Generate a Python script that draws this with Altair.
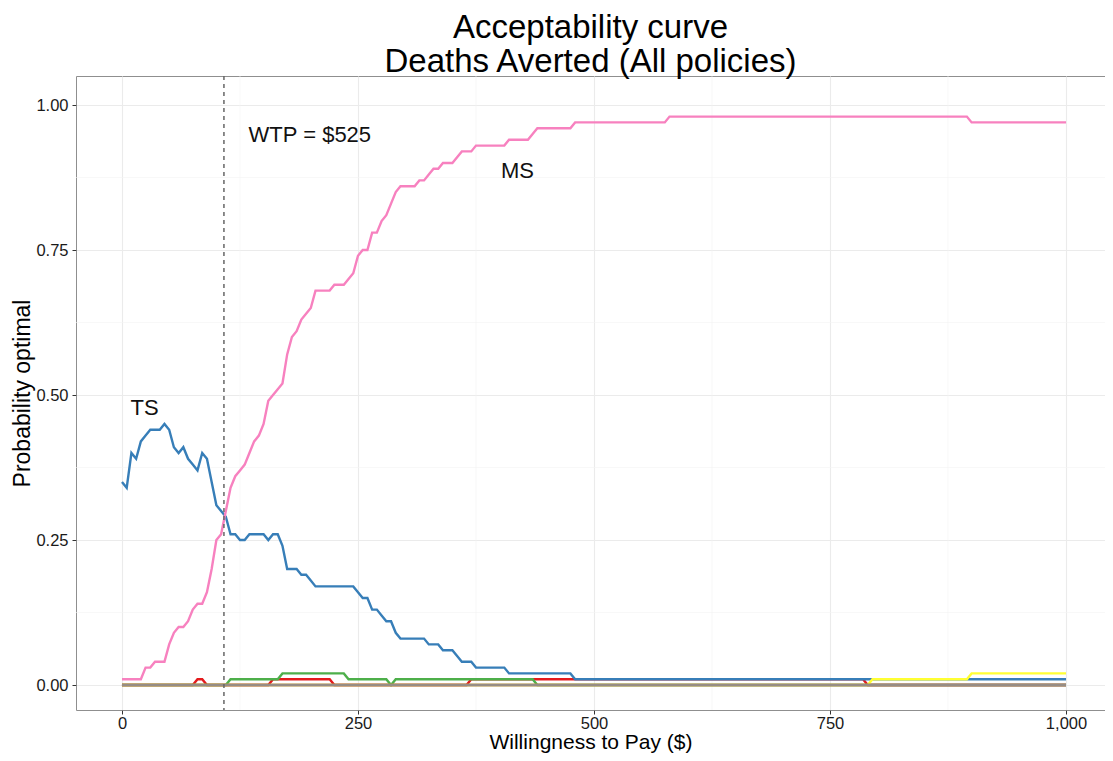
import altair as alt
import pandas as pd

FONT = "Liberation Sans"

# ---- data (WTP in $, probability optimal) ----
ts_x = [0, 5, 10, 15, 20, 25, 30, 40, 45, 50, 55, 60, 65, 70, 75, 80, 85, 90, 95, 100,
        105, 110, 115, 120, 125, 130, 135, 150, 155, 160, 165, 170, 175, 185, 190, 195,
        200, 205, 245, 250, 255, 260, 265, 270, 275, 280, 285, 290, 295, 320, 325, 335,
        340, 350, 355, 360, 370, 375, 405, 410, 475, 480, 1000]
ts_y = [0.35, 0.34, 0.40, 0.39, 0.42, 0.43, 0.44, 0.44, 0.45, 0.44, 0.41, 0.40, 0.41, 0.39,
        0.38, 0.37, 0.40, 0.39, 0.35, 0.31, 0.30, 0.29, 0.26, 0.26, 0.25, 0.25, 0.26, 0.26,
        0.25, 0.26, 0.26, 0.24, 0.20, 0.20, 0.19, 0.19, 0.18, 0.17, 0.17, 0.16, 0.15, 0.15,
        0.13, 0.13, 0.12, 0.11, 0.11, 0.09, 0.08, 0.08, 0.07, 0.07, 0.06, 0.06, 0.05, 0.04,
        0.04, 0.03, 0.03, 0.02, 0.02, 0.01, 0.01]

ms_x = [0, 20, 25, 30, 35, 45, 50, 55, 60, 65, 70, 75, 80, 85, 90, 95, 100, 105, 110, 115,
        120, 125, 130, 135, 140, 145, 150, 155, 160, 165, 170, 175, 180, 185, 190, 195, 200,
        205, 220, 225, 235, 240, 245, 250, 255, 260, 265, 270, 275, 280, 285, 290, 295, 310,
        315, 320, 325, 330, 335, 340, 350, 355, 360, 370, 375, 405, 410, 430, 435, 440, 475,
        480, 575, 580, 895, 900, 1000]
ms_y = [0.01, 0.01, 0.03, 0.03, 0.04, 0.04, 0.07, 0.09, 0.10, 0.10, 0.11, 0.13, 0.14, 0.14,
        0.16, 0.20, 0.25, 0.26, 0.30, 0.34, 0.36, 0.37, 0.38, 0.40, 0.42, 0.43, 0.45, 0.49,
        0.50, 0.51, 0.52, 0.57, 0.60, 0.61, 0.63, 0.64, 0.65, 0.68, 0.68, 0.69, 0.69, 0.70,
        0.71, 0.74, 0.75, 0.75, 0.78, 0.78, 0.80, 0.81, 0.83, 0.85, 0.86, 0.86, 0.87, 0.87,
        0.88, 0.89, 0.89, 0.90, 0.90, 0.91, 0.92, 0.92, 0.93, 0.93, 0.94, 0.94, 0.95, 0.96,
        0.96, 0.97, 0.97, 0.98, 0.98, 0.97, 0.97]

red_x = [0, 75, 80, 85, 90, 155, 160, 220, 225, 365, 370, 785, 790, 1000]
red_y = [0, 0, 0.01, 0.01, 0, 0, 0.01, 0.01, 0, 0, 0.01, 0.01, 0, 0]

green_x = [0, 110, 115, 165, 170, 235, 240, 280, 285, 290, 435, 440, 1000]
green_y = [0, 0, 0.01, 0.01, 0.02, 0.02, 0.01, 0.01, 0, 0.01, 0.01, 0, 0]

yellow_x = [0, 790, 795, 895, 900, 1000]
yellow_y = [0, 0, 0.01, 0.01, 0.02, 0.02]

zero_x = [0, 1000]
zero_y = [0, 0]

wtp_line = [108]

label_text = ["TS", "MS", "WTP = $525"]
label_x = [24, 419, 199]
label_y = [0.478, 0.886, 0.948]

x_ticks = [0, 250, 500, 750, 1000]
y_ticks = [0.0, 0.25, 0.5, 0.75, 1.0]
x_minor = [125, 375, 625, 875]
y_minor = [0.125, 0.375, 0.625, 0.875]

# ---- scales / axes ----
xs = alt.Scale(domain=[-48.7, 1041.3], nice=False, zero=False)
ys = alt.Scale(domain=[-0.0431, 1.05], nice=False, zero=False)

x_axis = alt.Axis(values=x_ticks, format=",d", title="Willingness to Pay ($)",
                  labelFontSize=16.5, labelColor="#1a1a1a", labelFont=FONT, labelPadding=1,
                  titleFontSize=21, titleFont=FONT, titleFontWeight="normal", titleColor="black",
                  titleBaseline="alphabetic", titleY=38.5,
                  grid=True, gridColor="#ebebeb", gridWidth=1.1,
                  domain=False, ticks=True, tickSize=4, tickColor="#333333", tickWidth=1)
y_axis = alt.Axis(values=y_ticks, format=".2f", title="Probability optimal",
                  labelFontSize=16.5, labelColor="#1a1a1a", labelFont=FONT, labelPadding=4,
                  titleFontSize=23, titleFont=FONT, titleFontWeight="normal", titleColor="black",
                  titleBaseline="alphabetic", titleX=-46.5,
                  grid=True, gridColor="#ebebeb", gridWidth=1.1,
                  domain=False, ticks=True, tickSize=4, tickColor="#333333", tickWidth=1)

X = lambda f: alt.X(f, scale=xs, axis=x_axis)
Y = lambda f: alt.Y(f, scale=ys, axis=y_axis)


def series(xv, yv, color):
    df = pd.DataFrame({"wtp": xv, "p": yv})
    return alt.Chart(df).mark_line(color=color, strokeWidth=2.4).encode(
        x=X("wtp:Q"), y=Y("p:Q"))


minor_x = alt.Chart(pd.DataFrame({"v": x_minor})).mark_rule(
    color="#f3f3f3", strokeWidth=0.6).encode(x=X("v:Q"))
minor_y = alt.Chart(pd.DataFrame({"v": y_minor})).mark_rule(
    color="#f3f3f3", strokeWidth=0.6).encode(y=Y("v:Q"))

layers = [
    minor_x,
    minor_y,
    series(red_x, red_y, "#E41A1C"),
    series(ts_x, ts_y, "#377EB8"),
    series(green_x, green_y, "#4DAF4A"),
    series(yellow_x, yellow_y, "#FFFF33"),
    series(zero_x, zero_y, "#A65628"),
    series(ms_x, ms_y, "#F781BF"),
    series(zero_x, zero_y, "#968d86"),
]

vline = alt.Chart(pd.DataFrame({"w": wtp_line})).mark_rule(
    color="#666666", strokeWidth=1.5, strokeDash=[4, 4]).encode(x=X("w:Q"))

labels = alt.Chart(pd.DataFrame({"t": label_text, "x": label_x, "y": label_y})).mark_text(
    font=FONT, fontSize=22, color="#111111", align="center", baseline="middle").encode(
    x=X("x:Q"), y=Y("y:Q"), text="t:N")

chart = alt.layer(*layers, vline, labels).properties(
    width=1029,
    height=634,
    title=alt.TitleParams(
        text=["Acceptability curve", "Deaths Averted (All policies)"],
        font=FONT, fontSize=33, fontWeight="normal", color="black",
        anchor="middle", lineHeight=34, offset=-4),
    autosize=alt.AutoSizeParams(type="none"),
    padding={"left": 68, "top": 68, "right": 0, "bottom": 43},
).configure_view(stroke="#8f8f8f", strokeWidth=1)

chart.save("out.html", embed_options={"renderer": "svg", "actions": False})
